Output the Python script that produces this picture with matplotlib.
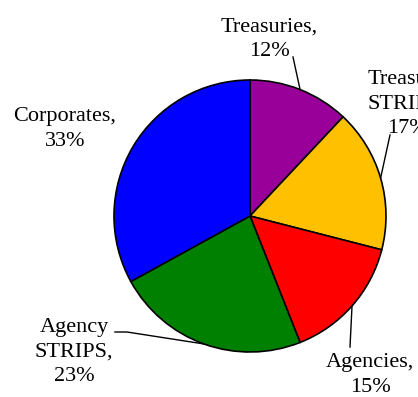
import numpy as np
import matplotlib.pyplot as plt

plt.rcParams['font.family'] = ['Liberation Serif', 'DejaVu Serif']

# portfolio composition
sectors = ['Treasuries', 'Treasury\nSTRIPS', 'Agencies', 'Agency\nSTRIPS', 'Corporates']
shares = [12, 17, 15, 23, 33]
colors = ['#990099', '#FFC000', '#FF0000', '#008000', '#0000FF']

W, H = 418, 397


def px(x, y):
    # pixel position (origin top-left) -> data coords
    return x, H - y


fig = plt.figure(figsize=(W / 100, H / 100), dpi=100)
ax = fig.add_axes([0, 0, 1, 1])

center = px(250, 216)
radius = 136
wedges, _ = ax.pie(shares, colors=colors, startangle=90, counterclock=False,
                   center=center, radius=radius, frame=True,
                   wedgeprops=dict(edgecolor='black', linewidth=1.2))
ax.set_xlim(0, W)
ax.set_ylim(0, H)
ax.set_aspect('equal')
ax.axis('off')

# label centres and leader line bends (pixels)
label_pos = [(269, 39), (407, 104), (370, 375), (74, 352), (65, 129)]
leader_pts = [[(293, 57)], [(390, 135)], [(350, 347)], [(127, 332), (115, 332)], None]

for w, name, val, lp, pts in zip(wedges, sectors, shares, label_pos, leader_pts):
    ax.text(*px(*lp), f'{name},\n{val}%', ha='center', va='center',
            fontsize=16, linespacing=1.4, clip_on=False)
    if pts is None:
        continue
    mid = np.deg2rad((w.theta1 + w.theta2) / 2)
    sx = center[0] + radius * np.cos(mid)
    sy = center[1] + radius * np.sin(mid)
    xs = [sx] + [px(*p)[0] for p in pts]
    ys = [sy] + [px(*p)[1] for p in pts]
    ax.plot(xs, ys, color='black', linewidth=1.0)

fig.savefig('out.png', dpi=100)
